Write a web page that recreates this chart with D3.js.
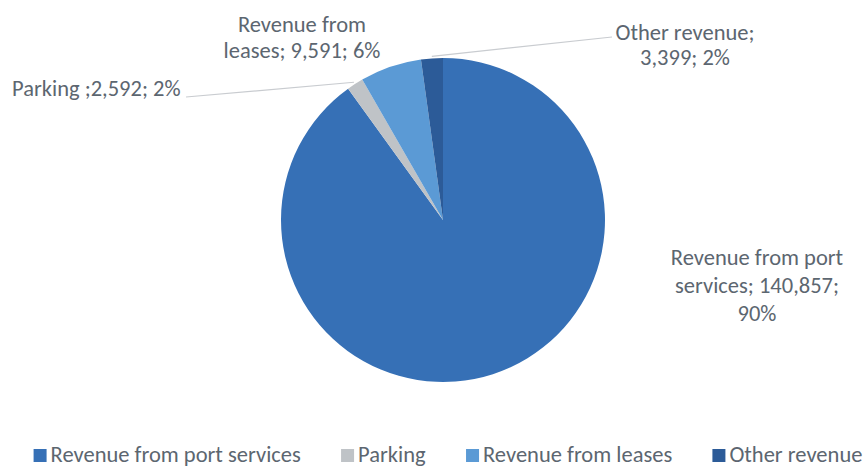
<!DOCTYPE html>
<html>
<head>
<meta charset="utf-8">
<script src="https://cdn.jsdelivr.net/npm/d3@7"></script>
<style>
  body { margin: 0; background: #fff; }
  svg text { font-family: Carlito, Calibri, Lato, "Open Sans", sans-serif; fill: #5c6670; }
</style>
</head>
<body>
<div id="chart"></div>
<script>
const categories = ["Revenue from port services", "Parking", "Revenue from leases", "Other revenue"];
const values = [140857, 2592, 9591, 3399];
const percents = ["90%", "2%", "6%", "2%"];
const colors = ["#3670b6", "#bfc3c7", "#5b9ad5", "#2c5b98"];

// label text lines as printed in the chart
const labelLines = [
    ["Revenue from port", "services; 140,857;", "90%"],
    ["Parking ;2,592; 2%"],
    ["Revenue from", "leases; 9,591; 6%"],
    ["Other revenue;", "3,399; 2%"]
];

function drawPie(targetId) {
    const width = 866, height = 468;
    const cx = 443, cy = 220, radius = 162;

    const svg = d3.select("#" + targetId).append("svg")
        .attr("width", width)
        .attr("height", height);

    const data = categories.map((c, i) => ({ name: c, value: values[i], color: colors[i], idx: i }));

    const pie = d3.pie().sort(null).value(d => d.value);
    const arcs = pie(data);
    const arc = d3.arc().innerRadius(0).outerRadius(radius);

    const g = svg.append("g").attr("transform", `translate(${cx},${cy})`);

    g.selectAll("path.slice")
        .data(arcs)
        .enter()
        .append("path")
        .attr("class", "slice")
        .attr("d", arc)
        .attr("fill", d => d.data.color);

    // label placement (absolute)
    const labelPos = [
        { x: 757, y: 265, anchor: "middle" },
        { x: 12, y: 96, anchor: "start" },
        { x: 302, y: 32, anchor: "middle" },
        { x: 685, y: 40, anchor: "middle" }
    ];
    const lineH = [28, 26, 26, 25];

    labelLines.forEach((lines, i) => {
        const t = svg.append("text")
            .attr("x", labelPos[i].x)
            .attr("y", labelPos[i].y)
            .attr("text-anchor", labelPos[i].anchor)
            .style("font-size", "22.5px");
        lines.forEach((ln, k) => {
            t.append("tspan")
                .attr("x", labelPos[i].x)
                .attr("dy", k === 0 ? 0 : lineH[i])
                .text(ln);
        });
    });

    // leader lines for the two small slices
    const outer = d3.arc().innerRadius(radius + 2).outerRadius(radius + 2);
    const leaders = [
        { idx: 1, end: [186, 97] },
        { idx: 3, end: [612, 37] }
    ];
    leaders.forEach(l => {
        const p = outer.centroid(arcs[l.idx]);
        svg.append("path")
            .attr("d", d3.line()([[cx + p[0], cy + p[1]], l.end]))
            .attr("stroke", "#c9ccd0")
            .attr("stroke-width", 1.2)
            .attr("fill", "none");
    });

    // legend
    const legend = svg.append("g").attr("class", "legend");
    const items = legend.selectAll("g.item")
        .data(data)
        .enter()
        .append("g")
        .attr("class", "item");
    items.append("rect")
        .attr("width", 13)
        .attr("height", 13)
        .attr("y", -13)
        .attr("fill", d => d.color);
    items.append("text")
        .attr("x", 17)
        .attr("y", 0)
        .style("font-size", "22.5px")
        .text(d => d.name);

    const gap = 40;
    let widths = [];
    items.each(function () { widths.push(this.getBBox().width); });
    const total = d3.sum(widths) + gap * (widths.length - 1);
    let x = 448 - total / 2;
    items.attr("transform", (d, i) => {
        const tx = x;
        x += widths[i] + gap;
        return `translate(${tx},462)`;
    });
}

drawPie("chart");
</script>
</body>
</html>
